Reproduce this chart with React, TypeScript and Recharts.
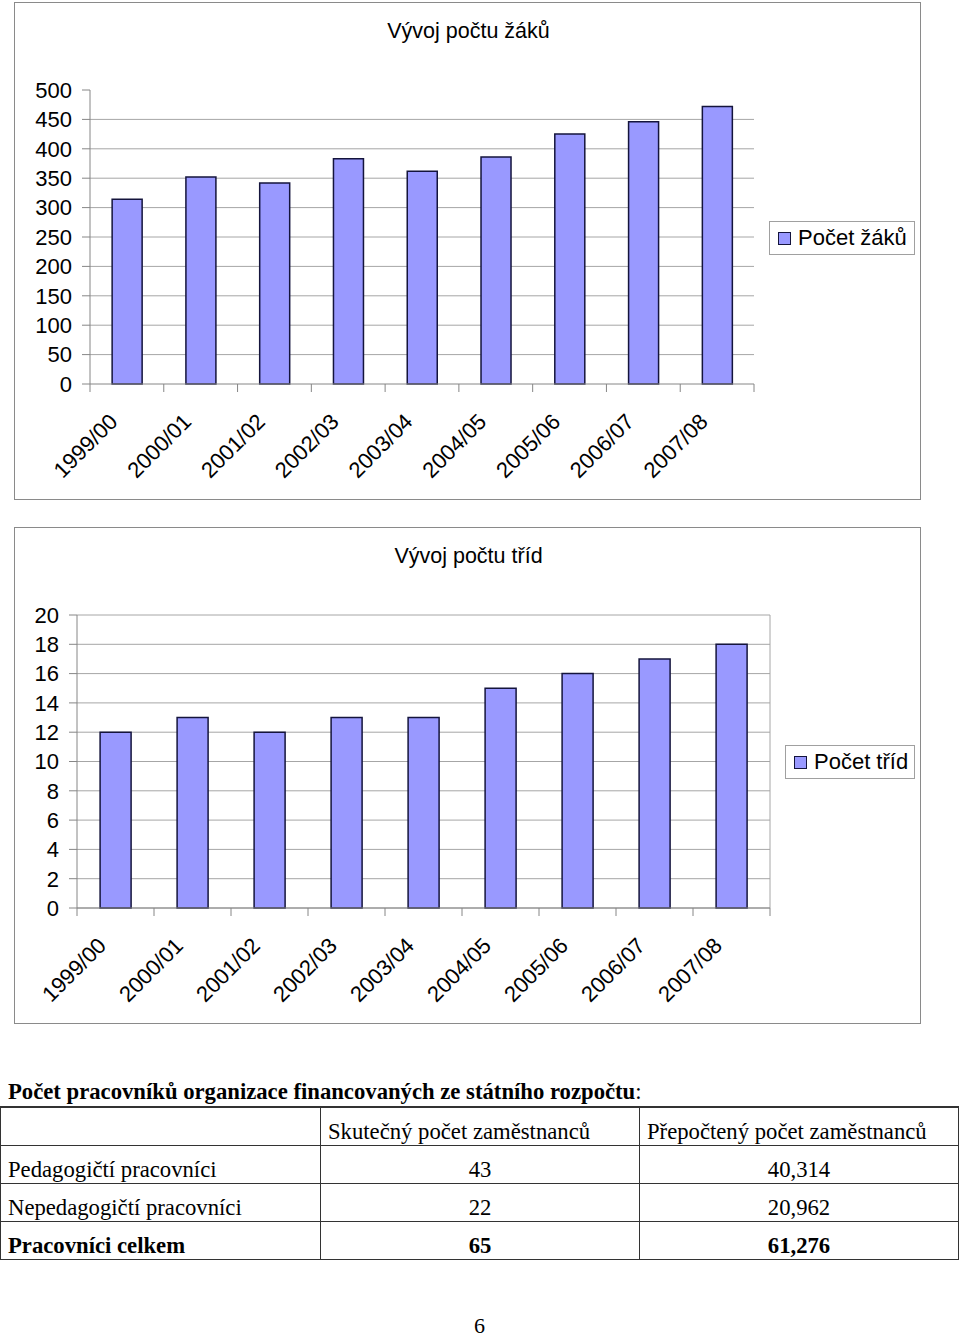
import React from 'react'
import { BarChart, Bar, XAxis, YAxis, CartesianGrid } from 'recharts'

const years = ['1999/00', '2000/01', '2001/02', '2002/03', '2003/04', '2004/05', '2005/06', '2006/07', '2007/08']
const studentCounts = [314, 352, 342, 383, 362, 386, 425, 446, 472]
const classCounts = [12, 13, 12, 13, 13, 15, 16, 17, 18]
const studentTicks = [0, 50, 100, 150, 200, 250, 300, 350, 400, 450, 500]
const classTicks = [0, 2, 4, 6, 8, 10, 12, 14, 16, 18, 20]

const tableHeaders = ['', 'Skutečný počet zaměstnanců', 'Přepočtený počet zaměstnanců']
const rowLabels = ['Pedagogičtí pracovníci', 'Nepedagogičtí pracovníci', 'Pracovníci celkem']
const actualCounts = ['43', '22', '65']
const fteCounts = ['40,314', '20,962', '61,276']

const SANS = '"Liberation Sans", Arial, sans-serif'
const SERIF = '"Liberation Serif", "Times New Roman", serif'
const BAR_FILL = '#9999ff'
const BAR_STROKE = '#14143c'
const AXIS = '#868686'
const GRID = '#a6a6a6'

// rotated category label + tick marks on the category boundaries (Excel style)
function SlantedTick(props: any) {
  const { x, y, payload, index, width, visibleTicksCount } = props
  const half = payload.offset || width / visibleTicksCount / 2
  const last = index === visibleTicksCount - 1
  return (
    <g>
      <line x1={x - half} x2={x - half} y1={y} y2={y + 8} stroke={AXIS} />
      {last && <line x1={x + half} x2={x + half} y1={y} y2={y + 8} stroke={AXIS} />}
      <g transform={`translate(${x - 8},${y + 39})`}>
        <text transform="rotate(-45)" textAnchor="end" fontSize={22} fontFamily={SANS} fill="#000">
          {payload.value}
        </text>
      </g>
    </g>
  )
}

function LegendBox({ left, top, width, height, label }: any) {
  return (
    <div
      style={{
        position: 'absolute',
        left,
        top,
        width,
        height,
        boxSizing: 'border-box',
        border: '1px solid #a0a0a0',
        display: 'flex',
        alignItems: 'center',
        paddingLeft: 8,
        fontFamily: SANS,
        fontSize: 22,
        background: '#fff',
        whiteSpace: 'nowrap',
      }}
    >
      <span
        style={{
          display: 'inline-block',
          width: 11,
          height: 11,
          background: BAR_FILL,
          border: `1px solid ${BAR_STROKE}`,
          marginRight: 7,
        }}
      />
      {label}
    </div>
  )
}

function ChartFrame({ top, height, title, children }: any) {
  return (
    <div
      style={{
        position: 'absolute',
        left: 14,
        top,
        width: 907,
        height,
        boxSizing: 'border-box',
        border: '1px solid #8a8a8a',
        background: '#fff',
      }}
    >
      <div
        style={{
          position: 'absolute',
          left: 0,
          right: 0,
          top: 16,
          textAlign: 'center',
          fontFamily: SANS,
          fontSize: 21.5,
          marginLeft: 2,
        }}
      >
        {title}
      </div>
      {children}
    </div>
  )
}

function StudentsChart() {
  const data = years.map((year, i) => ({ year, value: studentCounts[i] }))
  return (
    <BarChart width={905} height={496} data={data} margin={{ top: 87, right: 166, bottom: 15, left: 15 }} barCategoryGap="30%">
      <CartesianGrid
        horizontal
        vertical={false}
        stroke={GRID}
        horizontalValues={studentTicks.filter((v) => v > 0 && v < 500)}
      />
      <XAxis dataKey="year" height={100} tick={<SlantedTick />} tickLine={false} tickSize={0} tickMargin={0} axisLine={{ stroke: AXIS }} interval={0} />
      <YAxis
        width={60}
        domain={[0, 500]}
        ticks={studentTicks}
        interval={0}
        tick={{ fill: '#000', fontSize: 22, fontFamily: SANS }}
        tickLine={{ stroke: AXIS }}
        tickSize={8}
        tickMargin={10}
        axisLine={{ stroke: AXIS }}
      />
      <Bar dataKey="value" fill={BAR_FILL} stroke={BAR_STROKE} strokeWidth={1.5} isAnimationActive={false} />
    </BarChart>
  )
}

function ClassesChart() {
  const data = years.map((year, i) => ({ year, value: classCounts[i] }))
  return (
    <BarChart width={905} height={495} data={data} margin={{ top: 87, right: 150, bottom: 15, left: 12 }} barCategoryGap="30%">
      <CartesianGrid
        horizontal
        vertical
        stroke={GRID}
        verticalCoordinatesGenerator={({ offset }: any) => [offset.left + offset.width]}
      />
      <XAxis dataKey="year" height={100} tick={<SlantedTick />} tickLine={false} tickSize={0} tickMargin={0} axisLine={{ stroke: AXIS }} interval={0} />
      <YAxis
        width={50}
        domain={[0, 20]}
        ticks={classTicks}
        interval={0}
        tick={{ fill: '#000', fontSize: 22, fontFamily: SANS }}
        tickLine={{ stroke: AXIS }}
        tickSize={8}
        tickMargin={10}
        axisLine={{ stroke: AXIS }}
      />
      <Bar dataKey="value" fill={BAR_FILL} stroke={BAR_STROKE} strokeWidth={1.5} isAnimationActive={false} />
    </BarChart>
  )
}

const cellBase: React.CSSProperties = {
  borderRight: '1px solid #333',
  borderBottom: '1px solid #333',
  height: 37,
  padding: '0 7px 0 7px',
  verticalAlign: 'bottom',
  whiteSpace: 'nowrap',
  fontSize: 22.7,
  lineHeight: '26px',
}

function StaffTable() {
  return (
    <>
      <div
        style={{
          position: 'absolute',
          left: 8,
          top: 1079,
          fontFamily: SERIF,
          fontSize: 22.7,
          fontWeight: 'bold',
          lineHeight: '26px',
          whiteSpace: 'nowrap',
        }}
      >
        Počet pracovníků organizace financovaných ze státního rozpočtu<span style={{ fontWeight: 'normal' }}>:</span>
      </div>
      <table
        style={{
          position: 'absolute',
          left: 0,
          top: 1106,
          width: 959,
          borderCollapse: 'collapse',
          tableLayout: 'fixed',
          fontFamily: SERIF,
          borderTop: '2px solid #333',
          borderLeft: '1px solid #333',
        }}
      >
        <colgroup>
          <col style={{ width: 320 }} />
          <col style={{ width: 319 }} />
          <col style={{ width: 319 }} />
        </colgroup>
        <tbody>
          <tr>
            {tableHeaders.map((h, i) => (
              <td key={i} style={{ ...cellBase, textAlign: 'left' }}>
                {h}
              </td>
            ))}
          </tr>
          {rowLabels.map((label, r) => {
            const bold = r === rowLabels.length - 1
            return (
              <tr key={label} style={{ fontWeight: bold ? 'bold' : 'normal' }}>
                <td style={{ ...cellBase, textAlign: 'left' }}>{label}</td>
                <td style={{ ...cellBase, textAlign: 'center' }}>{actualCounts[r]}</td>
                <td style={{ ...cellBase, textAlign: 'center' }}>{fteCounts[r]}</td>
              </tr>
            )
          })}
        </tbody>
      </table>
      <div
        style={{
          position: 'absolute',
          left: 0,
          width: 959,
          top: 1317,
          height: 18,
          lineHeight: '18px',
          textAlign: 'center',
          fontFamily: SERIF,
          fontSize: 22,
        }}
      >
        6
      </div>
    </>
  )
}

export default function App() {
  return (
    <div style={{ position: 'absolute', left: 0, top: 0, width: 960, height: 1337, background: '#fff', overflow: 'hidden' }}>
      <ChartFrame top={2} height={498} title="Vývoj počtu žáků">
        <StudentsChart />
      </ChartFrame>
      <LegendBox left={769} top={221} width={146} height={34} label="Počet žáků" />
      <ChartFrame top={527} height={497} title="Vývoj počtu tříd">
        <ClassesChart />
      </ChartFrame>
      <LegendBox left={785} top={745} width={130} height={34} label="Počet tříd" />
      <StaffTable />
    </div>
  )
}
